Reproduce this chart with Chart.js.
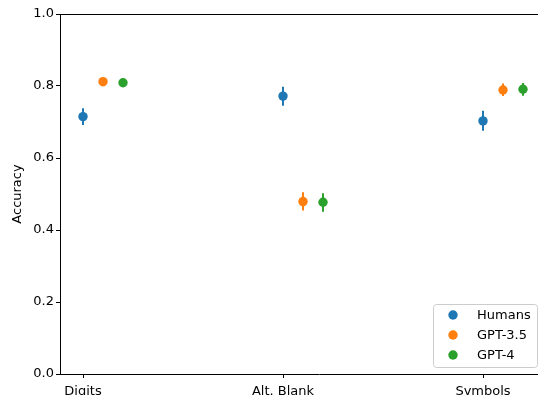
<!DOCTYPE html>
<html>
<head>
<meta charset="utf-8">
<script src="https://cdn.jsdelivr.net/npm/chart.js@4.4.1/dist/chart.umd.min.js"></script>
<style>
  html, body { margin: 0; padding: 0; background: #fff; overflow: hidden; }
  #wrap { position: absolute; left: 0; top: 0; width: 600px; height: 420px; }
</style>
</head>
<body>
<div id="wrap"><canvas id="c"></canvas></div>
<script>
// Conditions on the x axis
const categories = ['Digits', 'Alt. Blank', 'Symbols'];
const yTicks = [0.0, 0.2, 0.4, 0.6, 0.8, 1.0];

// Mean accuracy and interval bounds per group
const seriesNames = ['Humans', 'GPT-3.5', 'GPT-4'];
const humansMean = [0.715, 0.772, 0.703];
const humansLow  = [0.692, 0.745, 0.676];
const humansHigh = [0.738, 0.798, 0.731];
const gpt35Mean = [0.812, 0.479, 0.789];
const gpt35Low  = [0.804, 0.454, 0.772];
const gpt35High = [0.820, 0.505, 0.807];
const gpt4Mean = [0.809, 0.477, 0.791];
const gpt4Low  = [0.801, 0.451, 0.773];
const gpt4High = [0.817, 0.502, 0.808];

const colors = ['#1f77b4', '#ff7f0e', '#2ca02c'];
const dodge = [0, 0.1, 0.2];
const FONT = 'DejaVu Sans';
const FS = 13;

const groups = [
  { mean: humansMean, low: humansLow, high: humansHigh },
  { mean: gpt35Mean, low: gpt35Low, high: gpt35High },
  { mean: gpt4Mean, low: gpt4Low, high: gpt4High }
];

const datasets = groups.map((g, k) => ({
  label: seriesNames[k],
  data: g.mean.map((v, i) => ({ x: i + dodge[k], y: v, lo: g.low[i], hi: g.high[i] })),
  backgroundColor: colors[k],
  borderColor: colors[k],
  borderWidth: 0,
  pointRadius: 4.7,
  pointHoverRadius: 4.7
}));

// Vertical interval lines drawn through the scales
const errorBars = {
  id: 'errorBars',
  beforeDatasetsDraw(chart) {
    const { ctx, scales: { x, y } } = chart;
    ctx.save();
    ctx.lineWidth = 2;
    chart.data.datasets.forEach(ds => {
      ctx.strokeStyle = ds.borderColor;
      ds.data.forEach(p => {
        const px = x.getPixelForValue(p.x);
        ctx.beginPath();
        ctx.moveTo(px, y.getPixelForValue(p.lo));
        ctx.lineTo(px, y.getPixelForValue(p.hi));
        ctx.stroke();
      });
    });
    ctx.restore();
  }
};

// Top frame line and the legend box in the lower right
const frameAndLegend = {
  id: 'frameAndLegend',
  afterDraw(chart) {
    const { ctx, chartArea } = chart;
    ctx.save();
    ctx.strokeStyle = '#000';
    ctx.lineWidth = 1;
    ctx.beginPath();
    ctx.moveTo(chartArea.left, chartArea.top + 0.5);
    ctx.lineTo(chartArea.right, chartArea.top + 0.5);
    ctx.stroke();

    const bx = 433.5, by = 304.5, bw = 104, bh = 63, r = 3;
    ctx.beginPath();
    ctx.moveTo(bx + r, by);
    ctx.arcTo(bx + bw, by, bx + bw, by + bh, r);
    ctx.arcTo(bx + bw, by + bh, bx, by + bh, r);
    ctx.arcTo(bx, by + bh, bx, by, r);
    ctx.arcTo(bx, by, bx + bw, by, r);
    ctx.closePath();
    ctx.fillStyle = 'rgba(255,255,255,0.8)';
    ctx.fill();
    ctx.strokeStyle = '#cccccc';
    ctx.stroke();

    ctx.font = FS + 'px "' + FONT + '"';
    ctx.textBaseline = 'middle';
    ctx.textAlign = 'left';
    chart.data.datasets.forEach((ds, k) => {
      const ry = 315 + k * 20;
      ctx.fillStyle = ds.backgroundColor;
      ctx.beginPath();
      ctx.arc(453, ry, 4.7, 0, Math.PI * 2);
      ctx.fill();
      ctx.fillStyle = '#000';
      ctx.fillText(ds.label, 477, ry + 0.5);
    });
    ctx.restore();
  }
};

new Chart(document.getElementById('c'), {
  type: 'scatter',
  data: { datasets },
  plugins: [errorBars, frameAndLegend],
  options: {
    responsive: true,
    maintainAspectRatio: false,
    devicePixelRatio: 1,
    animation: false,
    layout: { padding: { left: 0, top: 14, right: 22, bottom: 0 } },
    plugins: { legend: { display: false }, tooltip: { enabled: false } },
    scales: {
      x: {
        type: 'linear',
        min: -0.115,
        max: 2.475,
        afterFit(s) { s.height = 46; },
        afterBuildTicks(s) { s.ticks = categories.map((c, i) => ({ value: i })); },
        grid: { display: true, drawOnChartArea: false, drawTicks: true, tickLength: 4, tickColor: '#000', tickWidth: 1 },
        border: { display: true, color: '#000', width: 1 },
        ticks: {
          autoSkip: false, maxRotation: 0, padding: 6, color: '#000',
          font: { family: FONT, size: FS },
          callback: v => categories[v] ?? ''
        }
      },
      y: {
        min: 0,
        max: 1,
        afterFit(s) { s.width = 60; },
        afterBuildTicks(s) { s.ticks = yTicks.map(v => ({ value: v })); },
        grid: { display: true, drawOnChartArea: false, drawTicks: true, tickLength: 4, tickColor: '#000', tickWidth: 1 },
        border: { display: true, color: '#000', width: 1 },
        ticks: {
          padding: 2, color: '#000',
          font: { family: FONT, size: FS },
          callback: v => Number(v).toFixed(1)
        },
        title: {
          display: true, text: 'Accuracy', color: '#000',
          font: { family: FONT, size: FS },
          padding: { top: 10, bottom: 0 }
        }
      }
    }
  }
});
</script>
</body>
</html>
